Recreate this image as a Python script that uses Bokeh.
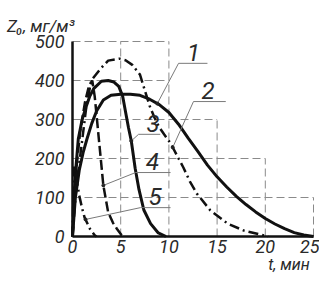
import numpy as np
from bokeh.plotting import figure
from bokeh.models import Range1d, Label, FixedTicker, LinearAxis
from bokeh.embed import file_html
from bokeh.resources import INLINE

# ---- data ----
x_ticks = [0, 5, 10, 15, 20, 25]
y_ticks = [0, 100, 200, 300, 400, 500]

# staircase dashed grid: extents
grid_h_y = [100, 200, 300, 400, 500]
grid_h_xend = [25, 20, 15, 10, 10]
grid_v_x = [5, 10, 15, 20, 25]
grid_v_yend = [500, 500, 300, 200, 100]

c1_t = [0, 0.3, 0.7, 1.1, 1.5, 2.0, 2.5, 3.2, 4.0, 5.0, 6.0, 7.0, 8.0, 9.0, 10.0,
        11.0, 12.0, 13.0, 14.0, 15.0, 16.0, 17.0, 18.0, 19.0, 20.0, 21.0, 22.0, 23.0, 24.0, 25.0]
c1_z = [0, 100, 170, 215, 250, 290, 322, 350, 362, 365, 365, 362, 352, 338, 318,
        288, 252, 218, 183, 153, 127, 103, 82, 63, 46, 32, 20, 10, 4, 0]

c2_t = [0, 0.4, 0.9, 1.45, 1.95, 2.9, 3.7, 4.9, 5.5, 6.2, 7.0, 7.5, 8.0, 8.5, 9.0,
        9.5, 10.2, 11.0, 11.5, 12.2, 12.9, 14.3, 16.1, 17.8, 19.5, 20.3]
c2_z = [0, 130, 226, 336, 400, 430, 451, 456, 452, 440, 415, 375, 335, 305, 280,
        262, 238, 200, 177, 140, 110, 67, 33, 15, 5, 0]

c3_t = [0, 0.3, 0.6, 1.0, 1.35, 1.8, 2.2, 3.0, 3.7, 4.3, 4.8, 5.2, 5.5, 5.8, 6.1,
        6.5, 6.9, 7.4, 8.1, 8.9, 9.7]
c3_z = [0, 160, 250, 300, 328, 360, 379, 398, 400, 396, 385, 360, 320, 280, 245,
        175, 120, 68, 33, 9, 0]

c4_t = [0, 0.3, 0.8, 1.3, 1.7, 2.05, 2.3, 2.5, 2.8, 3.2, 3.7, 4.2, 4.6, 5.1, 5.4]
c4_z = [0, 150, 270, 345, 385, 400, 360, 310, 233, 131, 62, 35, 20, 3, 0]

c5_t = [0, 0.15, 0.4, 0.7, 1.0, 1.25, 1.8, 2.3, 2.5]
c5_z = [0, 180, 150, 105, 72, 49, 20, 3, 0]

curve_labels = ["1", "2", "3", "4", "5"]

# ---- figure: frame covers the whole canvas, axes fixed at t=0 / Z=0 ----
W, H = 319, 273
px_t, px_z = 9.64, 0.39          # pixels per unit
org_x, org_y = 72, 236           # pixel position of the origin
x0 = -org_x / px_t
y0 = -(H - org_y) / px_z
p = figure(width=W, height=H, output_backend="svg", toolbar_location=None,
           x_range=Range1d(x0, x0 + W / px_t), y_range=Range1d(y0, y0 + H / px_z),
           x_axis_location=None, y_axis_location=None,
           min_border=0)
p.outline_line_color = None
p.xgrid.visible = False
p.ygrid.visible = False
p.background_fill_color = "white"

xax = LinearAxis(fixed_location=0, bounds=(0, 25), ticker=FixedTicker(ticks=x_ticks))
yax = LinearAxis(fixed_location=0, bounds=(0, 500), ticker=FixedTicker(ticks=y_ticks))
for ax in (xax, yax):
    ax.axis_line_width = 2.5
    ax.axis_line_color = "#111111"
    ax.major_tick_line_color = None
    ax.minor_tick_line_color = None
    ax.major_tick_out = 0
    ax.major_tick_in = 0
    ax.major_label_text_font = "Roboto"
    ax.major_label_text_font_style = "italic"
    ax.major_label_text_font_size = "18px"
    ax.major_label_text_color = "#2a2a2a"
xax.major_label_standoff = 3
yax.major_label_standoff = 8
p.add_layout(xax, "below")
p.add_layout(yax, "left")

# grid
gcol = "#8a8a8a"
for yv, xe in zip(grid_h_y, grid_h_xend):
    p.line([0, xe], [yv, yv], line_color=gcol, line_width=1, line_dash="8 4")
for xv, ye in zip(grid_v_x, grid_v_yend):
    p.line([xv, xv], [0, ye], line_color=gcol, line_width=1, line_dash="8 4")

# curves
p.line(c1_t, c1_z, line_color="#111111", line_width=3)
p.line(c2_t, c2_z, line_color="#111111", line_width=2.5, line_dash="10 4 2 4")
p.line(c3_t, c3_z, line_color="#111111", line_width=3)
p.line(c4_t, c4_z, line_color="#111111", line_width=2.5, line_dash="10 4")
p.line(c5_t, c5_z, line_color="#111111", line_width=2.5, line_dash="10 4 2 4")

# callouts
curves = [(c1_t, c1_z), (c2_t, c2_z), (c3_t, c3_z), (c4_t, c4_z), (c5_t, c5_z)]
t_on = [8.8, 10.4, 6.1, 3.2, 1.35]
kinks = [(11.0, 444), (12.55, 346), (6.85, 262), (6.55, 164), (7.05, 74)]
ends = [14.0, 15.9, 9.1, 10.17, 10.17]
lab_pos = [(12.55, 450), (14.05, 352), (8.35, 268), (8.3, 170), (8.55, 80)]
lcol = "#7a7a7a"
for (ct, cz), tx, (kx, ky), ex, (lx, ly), txt in zip(curves, t_on, kinks, ends, lab_pos, curve_labels):
    zy = float(np.interp(tx, ct, cz))
    p.line([tx, kx, ex], [zy, ky, ky], line_color=lcol, line_width=1)
    p.scatter([tx], [zy], size=3, color="#222222")
    p.add_layout(Label(x=lx, y=ly, text=txt, text_font="Roboto", text_font_style="italic",
                       text_font_size="24px", text_color="#2a2a2a",
                       text_align="center", text_baseline="bottom"))

# axis titles
p.add_layout(Label(x=-6.8, y=541, text="Z₀, мг/м³", text_font="Roboto",
                   text_font_style="italic", text_font_size="17px", text_color="#2a2a2a",
                   text_align="left", text_baseline="alphabetic"))
p.add_layout(Label(x=20.3, y=-72, text="t, мин", text_font="Roboto",
                   text_font_style="italic", text_font_size="16px", text_color="#2a2a2a",
                   text_align="left", text_baseline="alphabetic"))

open("out.html", "w").write(file_html(p, INLINE))
